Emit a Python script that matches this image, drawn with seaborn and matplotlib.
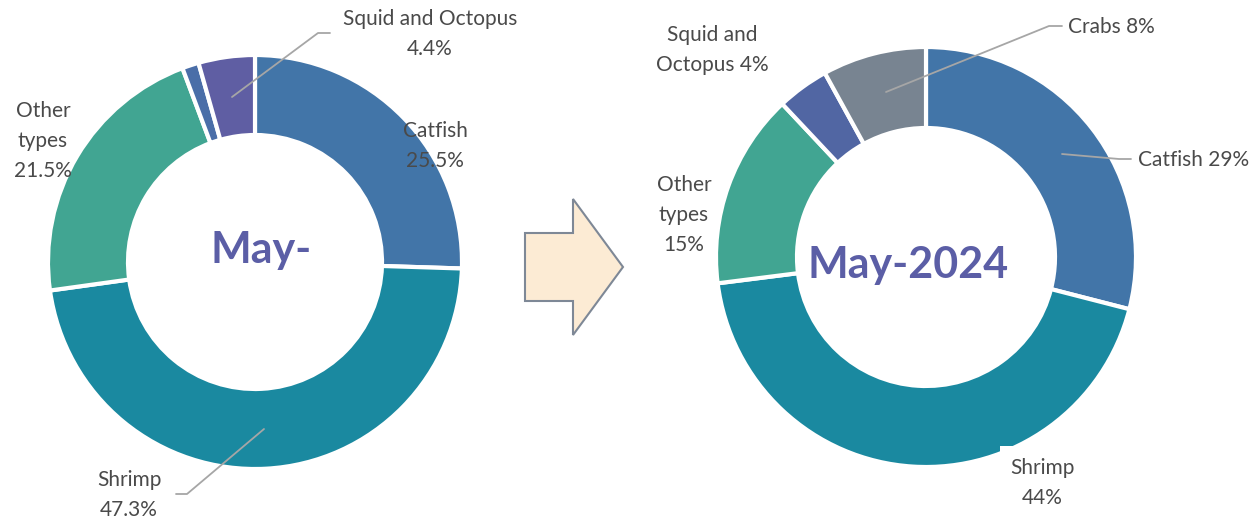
import matplotlib
matplotlib.use("Agg")
import matplotlib.pyplot as plt
from matplotlib.patches import Polygon, Rectangle
import seaborn as sns

# ---- data ----
left_labels = ["Catfish", "Shrimp", "Other types", "Crabs", "Squid and Octopus"]
left_values = [25.5, 47.3, 21.5, 1.3, 4.4]
left_colors = ["#4275A8", "#1A89A0", "#41A592", "#4A6EA8", "#5F5EA3"]
left_title = "May-"

right_labels = ["Catfish", "Shrimp", "Other types", "Squid and Octopus", "Crabs"]
right_values = [29, 44, 15, 4, 8]
right_colors = ["#4275A8", "#1A89A0", "#41A592", "#5166A3", "#788491"]
right_title = "May-2024"

sns.set_theme(style="white")
plt.rcParams["font.family"] = ["Lato", "DejaVu Sans"]

W, H = 1255, 518
fig = plt.figure(figsize=(W / 100, H / 100), dpi=100)
ax = fig.add_axes([0, 0, 1, 1])

def Y(y):
    return H - y

TXT = "#4A4A4A"
LINE = "#A6A6A6"
FS = 15
LS = 1.6

# left donut
ax.pie(left_values, colors=left_colors, radius=207, center=(255, Y(262)),
       startangle=90, counterclock=False, frame=True,
       wedgeprops=dict(width=80, edgecolor="white", linewidth=3))
# right donut
ax.pie(right_values, colors=right_colors, radius=210, center=(926, Y(257)),
       startangle=90, counterclock=False, frame=True,
       wedgeprops=dict(width=81, edgecolor="white", linewidth=3))

# center titles
ax.text(261, Y(250), left_title, ha="center", va="center", fontsize=31,
        fontweight="bold", color="#5B5EA6")
ax.text(908, Y(265), right_title, ha="center", va="center", fontsize=31,
        fontweight="bold", color="#5B5EA6")

# left labels
ax.text(430, Y(34), f"{left_labels[4]}\n{left_values[4]}%", ha="center", va="center",
        fontsize=FS, color=TXT, linespacing=LS)
ax.plot([232, 318, 330], [Y(97), Y(33), Y(33)], color=LINE, lw=1.3)
ax.text(435, Y(146), f"{left_labels[0]}\n{left_values[0]}%", ha="center", va="center",
        fontsize=FS, color=TXT, linespacing=LS)
ax.text(43, Y(141), "Other\ntypes\n" + f"{left_values[2]}%", ha="center", va="center",
        fontsize=FS, color=TXT, linespacing=LS)
ax.text(129, Y(495), f"{left_labels[1]}\n{left_values[1]}%", ha="center", va="center",
        fontsize=FS, color=TXT, linespacing=LS)
ax.plot([264, 187, 176], [Y(429), Y(494), Y(494)], color=LINE, lw=1.3)

# right labels
ax.text(1068, Y(27), f"{right_labels[4]} {right_values[4]}%", ha="left", va="center",
        fontsize=FS, color=TXT)
ax.plot([886, 1049, 1062], [Y(92), Y(26), Y(26)], color=LINE, lw=1.3)
ax.text(712, Y(50), "Squid and\n" + f"Octopus {right_values[3]}%", ha="center", va="center",
        fontsize=FS, color=TXT, linespacing=LS)
ax.text(1138, Y(160), f"{right_labels[0]} {right_values[0]}%", ha="left", va="center",
        fontsize=FS, color=TXT)
ax.plot([1062, 1119, 1131], [Y(154), Y(159), Y(159)], color=LINE, lw=1.3)
ax.text(684, Y(215), "Other\ntypes\n" + f"{right_values[2]}%", ha="center", va="center",
        fontsize=FS, color=TXT, linespacing=LS)
# white label background box that clips the donut edge
ax.add_patch(Rectangle((1000, Y(512)), 86, 66, facecolor="white", edgecolor="none", zorder=3))
ax.text(1042, Y(483), f"{right_labels[1]}\n{right_values[1]}%", ha="center", va="center",
        fontsize=FS, color=TXT, linespacing=LS, zorder=4)

# arrow
arrow_pts = [(525, Y(233)), (573, Y(233)), (573, Y(199)), (623, Y(267)),
             (573, Y(335)), (573, Y(301)), (525, Y(301))]
ax.add_patch(Polygon(arrow_pts, closed=True, facecolor="#FCEBD4",
                     edgecolor="#7E8896", linewidth=1.5))

ax.set_xlim(0, W)
ax.set_ylim(0, H)
ax.set_aspect("auto")
ax.axis("off")
fig.savefig("out.png", dpi=100, facecolor="white")
